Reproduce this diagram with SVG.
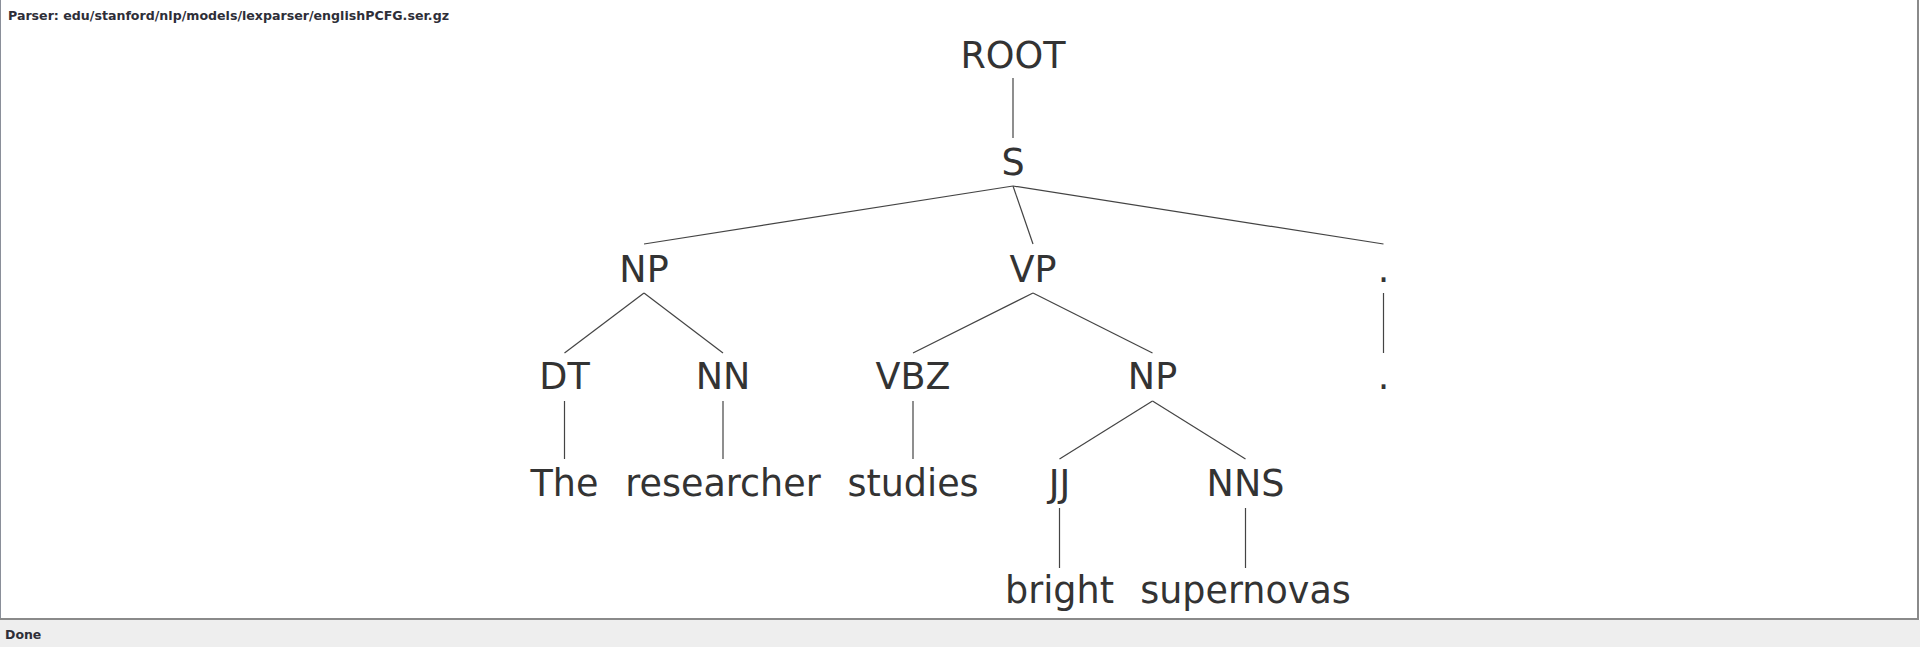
<svg xmlns="http://www.w3.org/2000/svg" width="1920" height="647" viewBox="0 0 1920 647">
<style>
.t{font-family:"DejaVu Sans",sans-serif;font-size:36.5px;fill:#333;text-anchor:middle}
.e line{stroke:#444;stroke-width:1.2}
.hdr{font-family:"DejaVu Sans",sans-serif;font-weight:bold;fill:#2e2e38}
</style>
<rect x="0" y="0" width="1920" height="647" fill="#fff"/>
<rect x="0" y="620" width="1920" height="27" fill="#eeeeee"/>
<line x1="0.5" y1="0" x2="0.5" y2="620" stroke="#8a8f99" stroke-width="1"/>
<line x1="1918" y1="0" x2="1918" y2="620" stroke="#8a8a8a" stroke-width="2"/>
<line x1="0" y1="619" x2="1919" y2="619" stroke="#8a8a8a" stroke-width="2"/>
<text class="hdr" x="8" y="19.5" font-size="12.8" textLength="441" lengthAdjust="spacingAndGlyphs">Parser: edu/stanford/nlp/models/lexparser/englishPCFG.ser.gz</text>
<text class="hdr" x="5" y="639" font-size="12.5">Done</text>
<g class="e" id="edges">
<line x1="1013" y1="78" x2="1013" y2="138"/>
<line x1="1013" y1="186" x2="644" y2="244"/>
<line x1="1013" y1="186" x2="1033" y2="244"/>
<line x1="1013" y1="186" x2="1383.5" y2="244"/>
<line x1="644" y1="293" x2="564.5" y2="353"/>
<line x1="644" y1="293" x2="723" y2="353"/>
<line x1="1033" y1="293" x2="913" y2="353"/>
<line x1="1033" y1="293" x2="1152.5" y2="353"/>
<line x1="1383.5" y1="293" x2="1383.5" y2="353"/>
<line x1="564.5" y1="401" x2="564.5" y2="459"/>
<line x1="723" y1="401" x2="723" y2="459"/>
<line x1="913" y1="401" x2="913" y2="459"/>
<line x1="1152.5" y1="401" x2="1059.5" y2="459"/>
<line x1="1152.5" y1="401" x2="1245.5" y2="459"/>
<line x1="1059.5" y1="508" x2="1059.5" y2="568"/>
<line x1="1245.5" y1="508" x2="1245.5" y2="568"/>
</g>
<g id="n-root"><text class="t" x="1013" y="68">ROOT</text></g>
<g id="n-s"><text class="t" x="1013" y="175">S</text></g>
<g id="n-np"><text class="t" x="644" y="282">NP</text></g>
<g id="n-vp"><text class="t" x="1033" y="282">VP</text></g>
<g id="n-punct"><text class="t" x="1383.5" y="282">.</text></g>
<g id="n-dt"><text class="t" x="564.5" y="389">DT</text></g>
<g id="n-nn"><text class="t" x="723" y="389">NN</text></g>
<g id="n-vbz"><text class="t" x="913" y="389">VBZ</text></g>
<g id="n-np2"><text class="t" x="1152.5" y="389">NP</text></g>
<g id="n-dot"><text class="t" x="1383.5" y="389">.</text></g>
<g id="n-the"><text class="t" x="564.5" y="496">The</text></g>
<g id="n-researcher"><text class="t" x="723" y="496">researcher</text></g>
<g id="n-studies"><text class="t" x="913" y="496">studies</text></g>
<g id="n-jj"><text class="t" x="1059.5" y="496">JJ</text></g>
<g id="n-nns"><text class="t" x="1245.5" y="496">NNS</text></g>
<g id="n-bright"><text class="t" x="1059.5" y="603">bright</text></g>
<g id="n-supernovas"><text class="t" x="1245.5" y="603">supernovas</text></g>
</svg>
